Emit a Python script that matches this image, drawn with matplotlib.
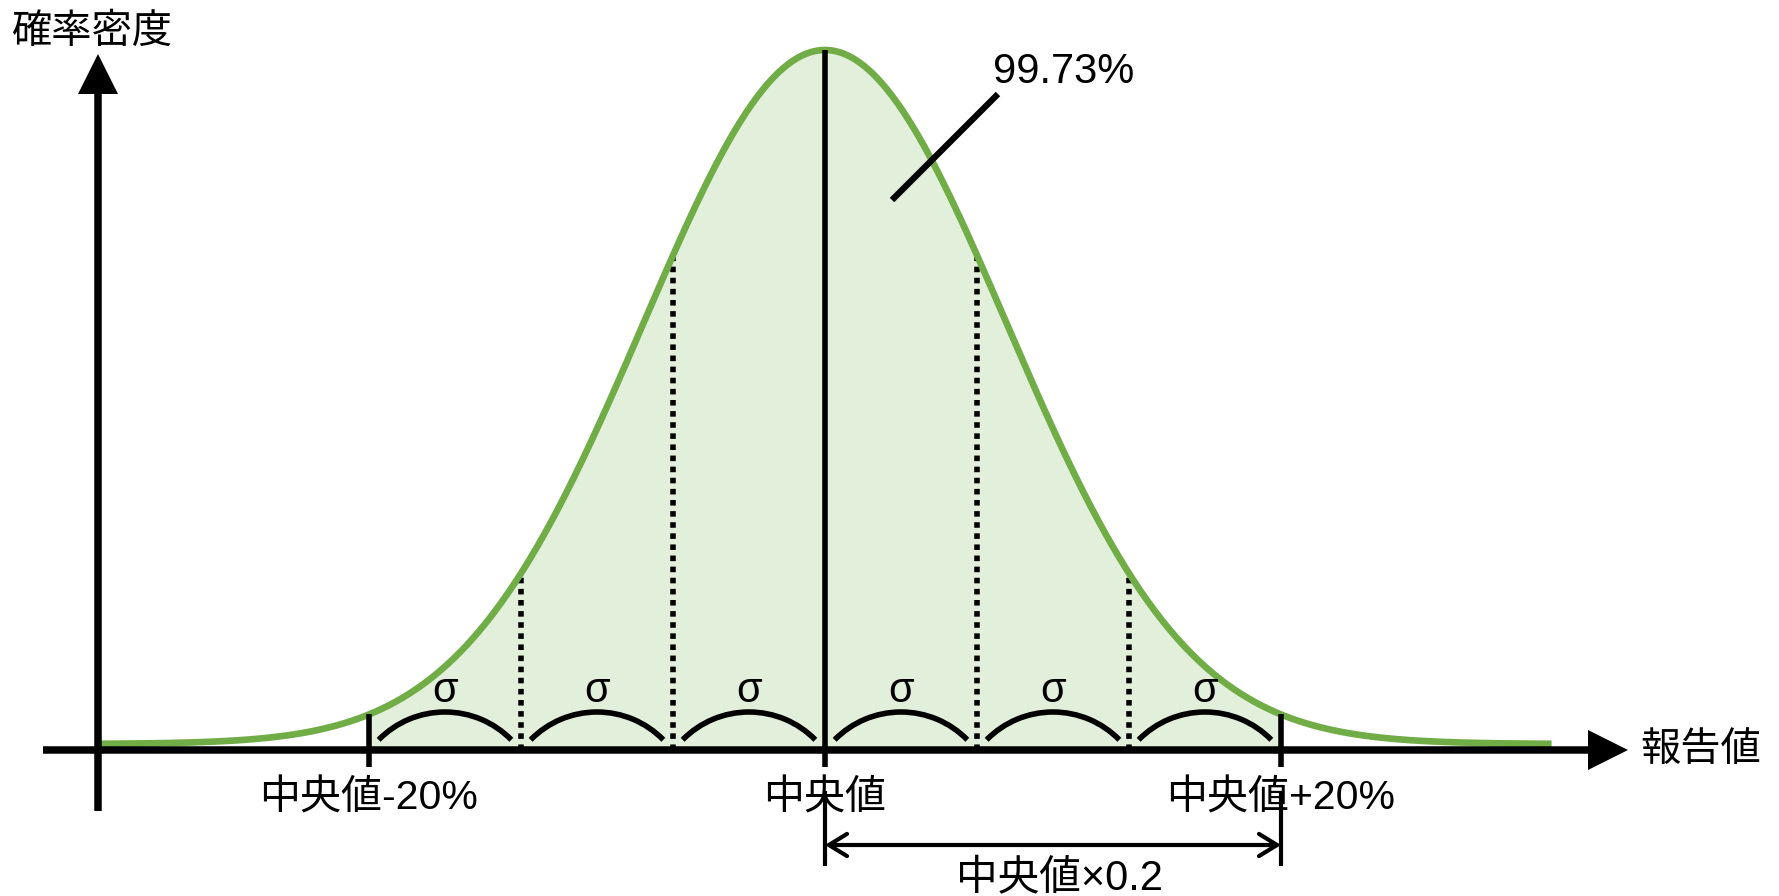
"""
正規分布の概念図: 中央値 ±20% = ±3σ (99.73%)
"""

import numpy as np
import matplotlib
matplotlib.use("Agg")
import matplotlib.pyplot as plt
from matplotlib.patches import Arc

# ── データ (x は σ 単位、y はピーク=1 に正規化した密度) ──
SIGMA_MARKS = [-3, -2, -1, 0, 1, 2, 3]
DOTTED_MARKS = [-2, -1, 1, 2]
ARC_CENTERS = [-2.5, -1.5, -0.5, 0.5, 1.5, 2.5]
CURVE_SD = 1.194            # 描かれた曲線の幅 (σ マーカー単位)
CURVE_RANGE = (-4.77, 4.78)
TICK_LABELS = {-3: "中央値-20%", 0: "中央値", 3: "中央値+20%"}
SIGMA_TEXT = "σ"
PEAK_LABEL = "99.73%"
X_LABEL = "報告値"
Y_LABEL = "確率密度"
SPAN_LABEL = "中央値×0.2"

GREEN = "#70ad47"
FILL = "#e2efda"
FONTS = ["Liberation Sans", "Noto Sans CJK JP", "DejaVu Sans"]
plt.rcParams["font.family"] = FONTS

W, H = 1779, 896
fig = plt.figure(figsize=(W / 100, H / 100), dpi=100)
ax = fig.add_axes([0, 0, 1, 1])
# 画素 -> データ: x = 825 + 152*u, y = 744 - 694*d
PX_X, PX_Y = 152.0, 694.0
ax.set_xlim(-825 / PX_X, (W - 825) / PX_X)
ax.set_ylim((744 - H) / PX_Y, 744 / PX_Y)
ax.axis("off")


def density(u):
    return np.exp(-0.5 * (np.asarray(u) / CURVE_SD) ** 2)


axis_y = -6 / PX_Y
yaxis_x = -727 / PX_X

# 塗りつぶし (±3σ)
xf = np.linspace(SIGMA_MARKS[0], SIGMA_MARKS[-1], 400)
ax.fill_between(xf, axis_y, density(xf), color=FILL, lw=0, zorder=1)

# 曲線
xc = np.linspace(*CURVE_RANGE, 800)
ax.plot(xc, density(xc), color=GREEN, lw=4.8, zorder=3, solid_capstyle="butt")

# 中心線 & ±3σ の目盛り
tick_bottom = -23 / PX_Y
for m in (SIGMA_MARKS[0], 0, SIGMA_MARKS[-1]):
    ax.plot([m, m], [tick_bottom, density(m)], color="k", lw=4, zorder=4,
            solid_capstyle="butt")

# 点線 (±1σ, ±2σ)
for m in DOTTED_MARKS:
    ax.plot([m, m], [axis_y, density(m)], color="k", lw=4, zorder=2,
            linestyle=(0, (1.0, 1.0)))

# σ の弧 (画面上で半径 R の円弧、データ座標の角度に換算)
R = 93.0
a, b = R / PX_X, R / PX_Y
t = np.radians(44.5)
th1 = np.degrees(np.arctan2(b * np.sin(t), a * np.cos(t)))
for c in ARC_CENTERS:
    ax.add_patch(Arc((c, (744 - 805) / PX_Y), 2 * a, 2 * b,
                     theta1=th1, theta2=180 - th1, color="k", lw=4, zorder=4))
    ax.text(c, 53 / PX_Y, SIGMA_TEXT, ha="center", va="center", fontsize=30,
            zorder=5)

# 軸 (矢印)
ax.arrow(-782 / PX_X, axis_y, (1628 - 43) / PX_X, 0, width=7.5 / PX_Y,
         head_width=40 / PX_Y, head_length=40 / PX_X, length_includes_head=True,
         color="k", lw=0, zorder=6)
ax.arrow(yaxis_x, (744 - 811) / PX_Y, 0, (811 - 54) / PX_Y, width=7.5 / PX_X,
         head_width=40 / PX_X, head_length=40 / PX_Y, length_includes_head=True,
         color="k", lw=0, zorder=6)

# 軸ラベル
ax.text(-814 / PX_X, 712 / PX_Y, Y_LABEL, ha="left", va="center", fontsize=29)
ax.text(815 / PX_X, axis_y, X_LABEL, ha="left", va="center", fontsize=29)

# 目盛りラベル
for m, lab in TICK_LABELS.items():
    ax.text(m, -54 / PX_Y, lab, ha="center", va="center", fontsize=29.5)

# 99.73% と引き出し線
ax.plot([67 / PX_X, 173 / PX_X], [544 / PX_Y, 650 / PX_Y], color="k", lw=4.5,
        solid_capstyle="butt", zorder=5)
ax.text(168 / PX_X, 672 / PX_Y, PEAK_LABEL, ha="left", va="center", fontsize=30)

# 中央値×0.2 の寸法線
for m in (0, SIGMA_MARKS[-1]):
    ax.plot([m, m], [-47 / PX_Y, -122 / PX_Y], color="k", lw=3,
            solid_capstyle="butt")
ax.annotate("", xy=(SIGMA_MARKS[-1], -101 / PX_Y), xytext=(0, -101 / PX_Y),
            arrowprops=dict(arrowstyle="<->,head_length=0.65,head_width=0.4",
                            lw=3, color="k", shrinkA=0, shrinkB=0,
                            mutation_scale=20))
ax.text(1.54, -135 / PX_Y, SPAN_LABEL, ha="center", va="center", fontsize=30)

fig.savefig("out.png", dpi=100)
